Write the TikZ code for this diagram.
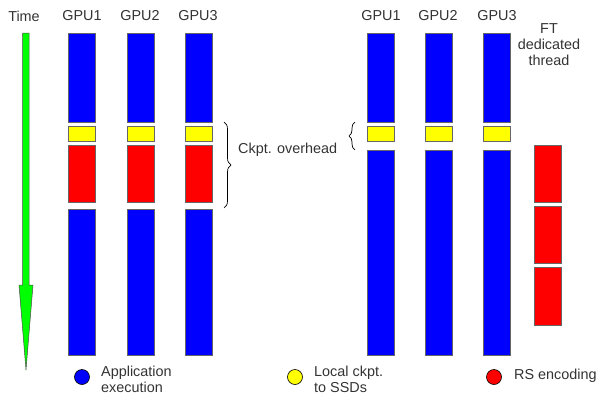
\documentclass[tikz,border=0pt]{standalone}
\usepackage{fontspec}
\setmainfont{Liberation Sans}
\usetikzlibrary{decorations.pathreplacing}
\definecolor{txt}{HTML}{333333}
\definecolor{bblue}{HTML}{0000FF}
\definecolor{byellow}{HTML}{FFFF00}
\definecolor{bred}{HTML}{FF0000}
\definecolor{bgreen}{HTML}{00FF00}
\begin{document}
\begin{tikzpicture}[x=1pt,y=-1pt,
  lbl/.style={font=\fontsize{14.4}{16}\selectfont,text=txt,inner sep=0pt},
  bar/.style={draw=black!60,line width=0.6pt},
  app/.style={bar,fill=bblue},
  ckpt/.style={bar,fill=byellow},
  rs/.style={bar,fill=bred},
  dot/.style={circle,draw=black,line width=0.6pt,minimum size=15pt,inner sep=0pt},
  brace/.style={draw=black,line width=0.7pt,decorate,decoration={brace,amplitude=7pt}}]
\useasboundingbox (0,0) rectangle (598,394);
% headers
\node[lbl] (time) at (24,16) {Time};
\node[lbl] (g1) at (82,16) {GPU1};
\node[lbl] (g2) at (140,16) {GPU2};
\node[lbl] (g3) at (198,16) {GPU3};
\node[lbl] (h1) at (381,16) {GPU1};
\node[lbl] (h2) at (438,16) {GPU2};
\node[lbl] (h3) at (497,16) {GPU3};
\node[lbl,align=center] (ft) at (549,45) {FT\\dedicated\\thread};
% time arrow
\draw[draw=black!70,fill=bgreen,line width=0.5pt] (22.5,33) -- (29,33) -- (29,285) -- (33,285) -- (26,370) -- (19,285) -- (22.5,285) -- cycle;
% left bars
\foreach \x in {68,127,185}{
  \draw[app] (\x,33) rectangle ++(27,89);
  \draw[ckpt] (\x,126) rectangle ++(27,15);
  \draw[rs] (\x,145) rectangle ++(27,57);
  \draw[app] (\x,209) rectangle ++(27,146);
}
% right bars
\foreach \x in {367,425,483}{
  \draw[app] (\x,33) rectangle ++(27,89);
  \draw[ckpt] (\x,126) rectangle ++(27,15);
  \draw[app] (\x,150) rectangle ++(27,205);
}
\draw[rs] (534,145) rectangle ++(27,57);
\draw[rs] (534,206) rectangle ++(27,57);
\draw[rs] (534,267) rectangle ++(27,58);
% braces
\coordinate (b1t) at (224,122);
\coordinate (b1b) at (224,208);
\draw[brace] (b1t) -- (b1b);
\node[lbl,anchor=west] (ov) at (238,150) {Ckpt. overhead};
\coordinate (b2t) at (355,122);
\coordinate (b2b) at (355,150);
\draw[brace,decoration={brace,amplitude=6pt,mirror}] (b2t) -- (b2b);
% legend
\node[dot,fill=bblue] (l1) at (82,377) {};
\node[lbl,anchor=west,align=left] (t1) at (101,379) {Application\\execution};
\node[dot,fill=byellow] (l2) at (295,377) {};
\node[lbl,anchor=west,align=left] (t2) at (314,379) {Local ckpt.\\to SSDs};
\node[dot,fill=bred] (l3) at (494,377) {};
\node[lbl,anchor=west] (t3) at (514,376) {RS encoding};
\end{tikzpicture}
\end{document}
